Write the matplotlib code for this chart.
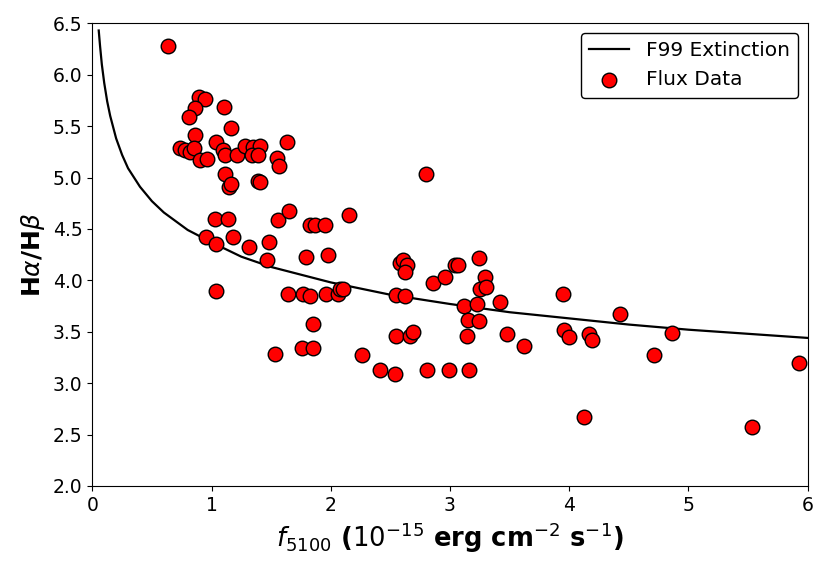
import numpy as np
import matplotlib
matplotlib.use("Agg")
import matplotlib.pyplot as plt

# Flux data
flux = [0.639, 0.898, 0.945, 0.862, 1.105, 0.811, 1.164, 0.862, 1.63,
        0.736, 0.78, 0.82, 0.853, 0.905, 0.96, 1.04, 1.10, 1.113, 1.21,
        1.28, 1.35, 1.41, 1.34, 1.39, 1.547, 1.566, 1.113, 1.15, 1.16,
        1.393, 1.41, 1.03, 1.14, 1.555, 1.65, 1.83, 1.87, 1.95, 0.954,
        1.18, 1.04, 1.317, 1.485, 1.468, 1.79, 1.98, 2.156, 1.04, 1.64,
        1.77, 1.83, 1.96, 2.06, 2.08, 2.10, 1.85, 1.76, 1.85, 1.535,
        2.265, 2.80, 2.58, 2.61, 2.64, 2.62, 2.86, 2.96, 3.04, 3.07,
        3.244, 3.29, 3.25, 3.30, 3.42, 3.12, 3.225, 3.155, 3.244, 3.14,
        3.477, 3.62, 2.55, 2.62, 2.55, 2.665, 2.69, 2.41, 2.54, 2.805,
        2.995, 3.163, 3.95, 4.43, 3.96, 4.00, 4.17, 4.19, 4.863, 4.715,
        5.93, 4.12, 5.535]
ratio = [6.28, 5.78, 5.76, 5.68, 5.69, 5.59, 5.48, 5.41, 5.35,
         5.29, 5.27, 5.25, 5.29, 5.17, 5.18, 5.35, 5.27, 5.22, 5.22,
         5.31, 5.30, 5.31, 5.22, 5.22, 5.19, 5.11, 5.03, 4.91, 4.94,
         4.97, 4.96, 4.60, 4.60, 4.59, 4.67, 4.54, 4.54, 4.54, 4.42,
         4.42, 4.35, 4.32, 4.37, 4.20, 4.23, 4.25, 4.64, 3.90, 3.87,
         3.87, 3.85, 3.87, 3.87, 3.92, 3.92, 3.58, 3.34, 3.34, 3.28,
         3.27, 5.03, 4.17, 4.20, 4.15, 4.08, 3.97, 4.03, 4.15, 4.15,
         4.22, 4.03, 3.92, 3.94, 3.79, 3.75, 3.77, 3.61, 3.60, 3.46,
         3.48, 3.36, 3.86, 3.85, 3.46, 3.46, 3.50, 3.13, 3.09, 3.13,
         3.13, 3.13, 3.87, 3.67, 3.52, 3.45, 3.48, 3.42, 3.49, 3.27,
         3.20, 2.67, 2.57]

# F99 extinction curve
curve_x = [0.054, 0.065, 0.08, 0.10, 0.125, 0.15, 0.20, 0.25, 0.30,
           0.40, 0.50, 0.60, 0.80, 1.00, 1.25, 1.50, 2.00, 2.50, 3.00,
           3.50, 4.00, 4.50, 5.00, 5.50, 6.00]
curve_y = [6.43, 6.28, 6.10, 5.92, 5.74, 5.60, 5.38, 5.22, 5.09,
           4.91, 4.77, 4.66, 4.49, 4.37, 4.23, 4.13, 3.98, 3.86, 3.77,
           3.69, 3.63, 3.57, 3.52, 3.48, 3.44]

fig = plt.figure(figsize=(8.3, 5.71), dpi=100)
ax = fig.add_axes([0.1112, 0.1489, 0.8619, 0.8103])

ax.plot(curve_x, curve_y, color='black', lw=1.6, label='F99 Extinction', zorder=3)
ax.scatter(flux, ratio, s=110, facecolor='red', edgecolor='black',
           linewidth=1.0, label='Flux Data', zorder=4)

ax.set_xlim(0, 6)
ax.set_ylim(2.0, 6.5)
ax.set_yticks(np.arange(2.0, 6.51, 0.5))
ax.tick_params(labelsize=13.5)

ax.set_xlabel(r'$f_{5100}$ ($10^{-15}$ erg cm$^{-2}$ s$^{-1}$)',
              fontsize=18.5, fontweight='bold')
ax.set_ylabel(r'H$\alpha$/H$\beta$', fontsize=18, fontweight='bold')

ax.legend(loc='upper right', fontsize=14.5, edgecolor='black', framealpha=1)

fig.savefig('out.png', dpi=100)
